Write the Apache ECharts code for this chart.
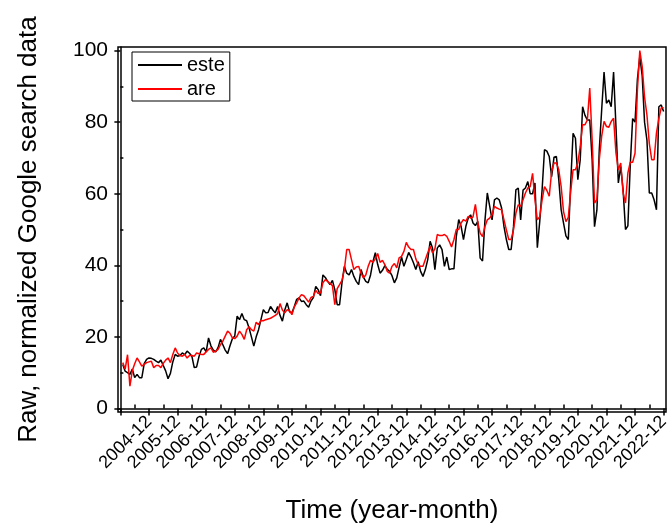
<!DOCTYPE html>
<html>
<head>
<meta charset="utf-8">
<script src="https://cdn.jsdelivr.net/npm/echarts@6/dist/echarts.min.js"></script>
<style>
  html, body { margin: 0; padding: 0; background: #fff; }
  #chart { width: 668px; height: 526px; }
</style>
</head>
<body>
<div id="chart"></div>
<script>
// tick labels on the time axis (one per December)
const yearTicks = ['2004-12', '2005-12', '2006-12', '2007-12', '2008-12', '2009-12', '2010-12',
  '2011-12', '2012-12', '2013-12', '2014-12', '2015-12', '2016-12', '2017-12', '2018-12',
  '2019-12', '2020-12', '2021-12', '2022-12']
const yMajor = [0, 20, 40, 60, 80, 100]
const yMinor = [10, 30, 50, 70, 90]

// monthly values, 2004-01 .. 2022-12
const este = [
  12.3, 10.4, 10, 9.5, 11, 8.6, 9.5, 8.6, 8.6, 12.5, 13.7, 14.1,
  14, 13.7, 13.2, 12.8, 13.5, 12, 10.5, 8.3, 9.8, 13, 15.1, 14.6,
  14.8, 15.5, 15, 16, 15.4, 14.6, 11.4, 11.6, 14.5, 16.5, 16.9, 15.8,
  19.7, 17.5, 16.3, 15.8, 17, 19.3, 17.8, 16.3, 15.3, 17.5, 19.5, 20.2,
  25.8, 24.8, 26.5, 24.8, 24.5, 22.5, 20, 17.4, 20, 22, 24.8, 27.6,
  26.7, 26.8, 28.5, 27.5, 26.7, 28.5, 26, 24.4, 27.5, 29.5, 27, 26.7,
  28.5, 30.5, 30.9, 29.9, 30, 29, 28.3, 30, 31, 34.1, 33.2, 31.5,
  37.3, 36.6, 35.5, 34.6, 35.8, 33.2, 29, 29, 35.1, 39.7, 37.8, 37.3,
  38.8, 36.9, 35.5, 34.6, 38.8, 36.7, 35.5, 35.1, 37.3, 41, 43.5, 40.2,
  37.8, 38.6, 39.9, 38.9, 38.3, 37.1, 35.1, 36.5, 39.5, 42.3, 39.7, 41.6,
  43.6, 42.3, 40.7, 38.8, 41, 38.3, 36.9, 38.8, 41.6, 46.7, 44.8, 38.8,
  44.8, 45.7, 44.4, 39.7, 42.3, 38.8, 39, 39, 48.1, 52.8, 50.9, 47.2,
  50.9, 53.2, 54.1, 51.8, 51.1, 52.3, 42, 41.2, 52.4, 60.2, 56.5, 52.7,
  58.3, 58.8, 58.3, 56, 50.8, 47.2, 44.4, 44.4, 50.8, 61.1, 61.6, 52.7,
  61, 61.6, 63.4, 60, 60, 63, 44.9, 52.2, 61.1, 72.3, 71.9, 70.4,
  64.8, 70.2, 70.4, 63.9, 55.5, 51.8, 48.2, 47.2, 63, 76.9, 75.5, 63.9,
  69.5, 84.3, 81.9, 80.6, 80.6, 69.5, 50.8, 55.5, 72.3, 83.4, 94, 85.3,
  86.2, 84.3, 94, 78.8, 63, 67.6, 61, 50, 51, 68, 81, 80,
  92, 98.3, 93, 80, 75, 60.2, 60.2, 58.3, 55.5, 84.3, 84.8, 83
]
const are = [
  12.8, 11, 15, 6.2, 10.5, 12.5, 14.1, 13, 11.8, 12.3, 12.8, 13,
  13.2, 11.4, 12, 12, 11.4, 12.6, 13.5, 14.1, 12.8, 15.1, 16.9, 15.5,
  14.8, 14.6, 15.1, 14.1, 14.8, 14.8, 14.6, 15.5, 15.3, 15.1, 15.1, 15.8,
  16.5, 16.9, 15.7, 16, 16.5, 17.8, 18.8, 20.2, 21.6, 21, 19.7, 19.5,
  20.2, 21.6, 20.7, 19.3, 22, 22.8, 22, 21.6, 24.1, 23.4, 24.6, 24.5,
  24.8, 25, 25.2, 25.6, 26, 26.5, 29.3, 27.5, 26.7, 27.6, 27.3, 26.2,
  28.4, 29.5, 30.9, 31.8, 31.5, 30.6, 29.7, 31, 31.3, 33, 32.1, 32.3,
  35.1, 36, 35.5, 34.9, 34.3, 29, 33.5, 34.6, 35.8, 38.8, 44.4, 44.4,
  41.6, 38.8, 39.5, 39.7, 37.8, 36.5, 37.3, 39.7, 41.4, 40.8, 41.8, 43.3,
  40.8, 41.4, 40.2, 38.3, 37.8, 39.7, 40.5, 39.3, 42.1, 42.5, 43.9, 46.4,
  45.1, 44.4, 44.4, 41.8, 40.2, 39.7, 39.7, 41.6, 43.5, 45.3, 43.5, 44.6,
  48.6, 48.3, 48.3, 48.6, 48.1, 46.7, 45.1, 47.2, 50, 50, 51.8, 52.8,
  52.3, 53.7, 53.2, 53.5, 57, 52, 49, 48, 50.8, 52.7, 53.2, 54.1,
  56.5, 56, 55.7, 55.5, 52.7, 49.9, 47.2, 47.2, 49.9, 54.6, 56.9, 56.5,
  58.3, 60.2, 61.6, 62, 65.7, 58.3, 52.7, 53.6, 58.3, 62, 60.9, 59.3,
  66.2, 68.6, 68.6, 66.7, 62, 55, 52.2, 53.4, 60.6, 66.7, 66.7, 68.6,
  73.2, 79.3, 79.3, 80.6, 89.5, 75.1, 57.4, 58.3, 69.5, 76, 80.2, 78.8,
  78.6, 80.2, 81.1, 71.4, 66.7, 68.6, 60.2, 57.4, 65.8, 68.8, 68.8, 71.3,
  89, 100, 95.6, 87, 82, 74, 69.5, 69.5, 77, 81, 84, 84
]

const font = 'Liberation Sans'
const black = '#000'
// month index 0 = 2003-12, ticks every 12 months, minor ticks half way
const xMajor = [0].concat(yearTicks.map((t, i) => (i + 1) * 12))
const xMinor = xMajor.slice(0, -1).map(v => v + 6)
const tickLabel = {}
yearTicks.forEach((t, i) => { tickLabel[(i + 1) * 12] = t })

const chart = echarts.init(document.getElementById('chart'))
chart.setOption({
  animation: false,
  textStyle: { fontFamily: font },
  grid: {
    left: 118, right: 2, top: 47, bottom: 114,
    show: true, borderColor: black, borderWidth: 1.5,
    outerBoundsMode: 'none'
  },
  legend: {
    orient: 'vertical',
    left: 132, top: 52,
    padding: [3, 5, 2, 6],
    borderColor: black, borderWidth: 1,
    itemWidth: 44, itemHeight: 2, itemGap: 4,
    textStyle: { fontSize: 20, color: black, fontFamily: font, lineHeight: 20 },
    data: [{ name: 'este', icon: 'rect' }, { name: 'are', icon: 'rect' }]
  },
  xAxis: [
    {
      type: 'value', min: -1, max: 229,
      axisLine: { lineStyle: { color: black, width: 1.5 } },
      axisTick: { customValues: xMajor, length: 7, lineStyle: { color: black, width: 1.5 } },
      axisLabel: {
        customValues: xMajor.slice(1), rotate: 45, fontSize: 18, color: black, margin: 7,
        formatter: v => tickLabel[v] || ''
      },
      splitLine: { show: false },
      name: 'Time (year-month)', nameLocation: 'middle', nameGap: 86,
      nameTextStyle: { fontSize: 26, color: black }
    },
    {
      type: 'value', min: -1, max: 229,
      axisLine: { show: false },
      axisTick: { customValues: xMinor, length: 4, lineStyle: { color: black, width: 1.5 } },
      axisLabel: { show: false },
      splitLine: { show: false }
    }
  ],
  yAxis: [
    {
      type: 'value', min: -1, max: 101,
      axisLine: { show: true, lineStyle: { color: black, width: 1.5 } },
      axisTick: { show: true, customValues: yMajor, length: 6, lineStyle: { color: black, width: 1.5 } },
      axisLabel: { customValues: yMajor, fontSize: 21, color: black, margin: 10 },
      splitLine: { show: false },
      name: 'Raw, normalized Google search data', nameLocation: 'middle', nameGap: 76,
      nameTextStyle: { fontSize: 26, color: black }
    },
    {
      type: 'value', min: -1, max: 101,
      axisLine: { show: false },
      axisTick: { show: true, customValues: yMinor, length: 3, lineStyle: { color: black, width: 1.5 } },
      axisLabel: { show: false },
      splitLine: { show: false }
    }
  ],
  series: [
    {
      name: 'este', type: 'line', showSymbol: false,
      color: '#000', lineStyle: { width: 1.5 },
      data: este.map((v, i) => [i + 1, v])
    },
    {
      name: 'are', type: 'line', showSymbol: false,
      color: '#ff0000', lineStyle: { width: 1.5 },
      data: are.map((v, i) => [i + 1, v])
    }
  ]
})
</script>
</body>
</html>
